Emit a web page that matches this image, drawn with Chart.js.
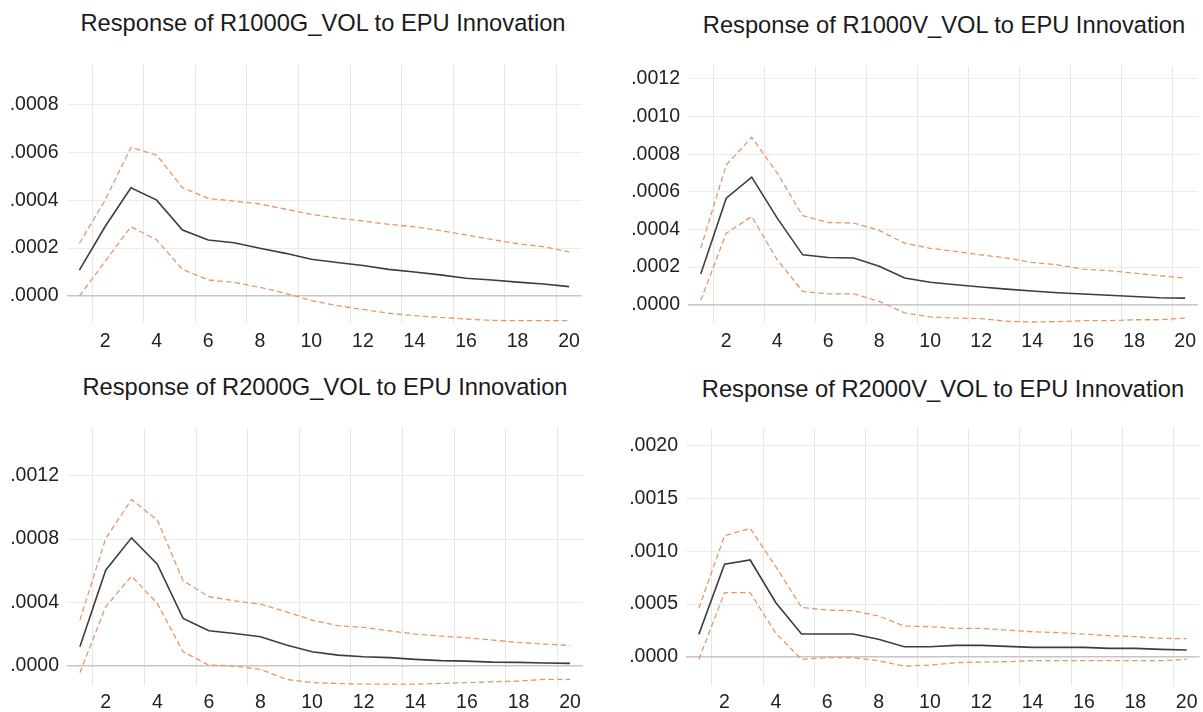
<!DOCTYPE html>
<html>
<head>
<meta charset="utf-8">
<script src="https://cdn.jsdelivr.net/npm/chart.js@4.4.1/dist/chart.umd.min.js"></script>
<style>
  html, body { margin: 0; padding: 0; background: #ffffff; }
  body { width: 1203px; height: 712px; position: relative; overflow: hidden; }
  .panel { position: absolute; }
  .title { position: absolute; width: 600px; text-align: center; font-family: 'Liberation Sans', Arial, sans-serif;
           font-size: 23.7px; line-height: 1; color: #1a1a1a; white-space: nowrap; }
</style>
</head>
<body>
<div class="title" style="left:23px; top:12px;">Response of R1000G_VOL to EPU Innovation</div>
<div class="title" style="left:644px; top:14px;">Response of R1000V_VOL to EPU Innovation</div>
<div class="title" style="left:25px; top:376px;">Response of R2000G_VOL to EPU Innovation</div>
<div class="title" style="left:643px; top:378px;">Response of R2000V_VOL to EPU Innovation</div>

<div class="panel" style="left:0px; top:0px; width:600px; height:356px;"><canvas id="c1"></canvas></div>
<div class="panel" style="left:600px; top:0px; width:603px; height:356px;"><canvas id="c2"></canvas></div>
<div class="panel" style="left:0px; top:356px; width:600px; height:356px;"><canvas id="c3"></canvas></div>
<div class="panel" style="left:600px; top:356px; width:603px; height:356px;"><canvas id="c4"></canvas></div>

<script>
// ---------------- DATA ----------------
const periods = ['1','2','3','4','5','6','7','8','9','10','11','12','13','14','15','16','17','18','19','20'];

// R1000G_VOL
const r1000gMid = [0.000108,0.000290,0.000452,0.000400,0.000275,0.000234,0.000222,0.000199,0.000178,0.000153,0.000140,0.000127,0.000111,0.000100,0.000088,0.000074,0.000067,0.000058,0.000050,0.000039];
const r1000gUp  = [0.000220,0.000400,0.000620,0.000588,0.000452,0.000407,0.000396,0.000384,0.000362,0.000341,0.000325,0.000313,0.000299,0.000289,0.000273,0.000255,0.000236,0.000218,0.000206,0.000184];
const r1000gLo  = [0.000000,0.000145,0.000289,0.000234,0.000111,0.000067,0.000057,0.000036,0.000011,-0.000019,-0.000040,-0.000056,-0.000072,-0.000082,-0.000089,-0.000096,-0.000102,-0.000103,-0.000103,-0.000103];
const r1000gTicks = [0, 0.0002, 0.0004, 0.0006, 0.0008];

// R1000V_VOL
const r1000vMid = [0.000163,0.000566,0.000678,0.000460,0.000265,0.000251,0.000248,0.000204,0.000142,0.000119,0.000106,0.000094,0.000083,0.000073,0.000064,0.000057,0.000050,0.000044,0.000037,0.000035];
const r1000vUp  = [0.000300,0.000743,0.000890,0.000700,0.000473,0.000437,0.000434,0.000395,0.000327,0.000300,0.000283,0.000265,0.000248,0.000225,0.000212,0.000189,0.000181,0.000168,0.000154,0.000142];
const r1000vLo  = [0.000023,0.000380,0.000469,0.000239,0.000071,0.000058,0.000058,0.000018,-0.000044,-0.000065,-0.000071,-0.000074,-0.000088,-0.000092,-0.000090,-0.000085,-0.000085,-0.000080,-0.000080,-0.000071];
const r1000vTicks = [0, 0.0002, 0.0004, 0.0006, 0.0008, 0.0010, 0.0012];

// R2000G_VOL
const r2000gMid = [0.000120,0.000604,0.000808,0.000642,0.000299,0.000221,0.000204,0.000183,0.000131,0.000088,0.000067,0.000057,0.000051,0.000040,0.000032,0.000029,0.000023,0.000021,0.000017,0.000015];
const r2000gUp  = [0.000288,0.000804,0.001050,0.000920,0.000537,0.000436,0.000410,0.000389,0.000341,0.000288,0.000253,0.000242,0.000221,0.000200,0.000187,0.000177,0.000162,0.000147,0.000137,0.000128];
const r2000gLo  = [-0.000044,0.000373,0.000566,0.000394,0.000088,0.000004,-0.000002,-0.000023,-0.000086,-0.000107,-0.000112,-0.000116,-0.000116,-0.000116,-0.000112,-0.000107,-0.000101,-0.000097,-0.000086,-0.000086];
const r2000gTicks = [0, 0.0004, 0.0008, 0.0012];

// R2000V_VOL
const r2000vMid = [0.000212,0.000877,0.000918,0.000513,0.000215,0.000215,0.000215,0.000165,0.000095,0.000095,0.000108,0.000108,0.000098,0.000089,0.000089,0.000089,0.000079,0.000079,0.000070,0.000063];
const r2000vUp  = [0.000459,0.001149,0.001218,0.000854,0.000468,0.000443,0.000437,0.000386,0.000291,0.000285,0.000269,0.000269,0.000253,0.000237,0.000228,0.000215,0.000199,0.000190,0.000174,0.000171];
const r2000vLo  = [-0.000025,0.000608,0.000608,0.000222,-0.000025,-0.000009,-0.000009,-0.000038,-0.000089,-0.000079,-0.000057,-0.000051,-0.000047,-0.000038,-0.000038,-0.000038,-0.000038,-0.000038,-0.000038,-0.000025];
const r2000vTicks = [0, 0.0005, 0.0010, 0.0015, 0.0020];

// axis ranges
const r1000gRange = [-0.0001127, 0.000964];
const r1000vRange = [-0.0000972, 0.001269];
const r2000gRange = [-0.000128, 0.0015];
const r2000vRange = [-0.000278, 0.002168];

// ---------------- STYLE ----------------
const TICK_FONT = { family: "'Liberation Sans', Arial, sans-serif", size: 19.5 };
const TICK_COLOR = '#222222';
const MID_COLOR = '#3d3d3d';
const BAND_COLOR = 'rgb(229,152,102)';

function fmt(v) {
  return v.toFixed(4).replace(/^-?0/, m => m.startsWith('-') ? '-' : '');
}

function makeChart(id, mid, up, lo, ticks, range, L) {
  const ctx = document.getElementById(id);
  return new Chart(ctx, {
    type: 'line',
    data: {
      labels: periods,
      datasets: [
        { data: up, borderColor: BAND_COLOR, borderWidth: 1.3, borderDash: [5.5, 3.2], pointRadius: 0, fill: false, tension: 0 },
        { data: lo, borderColor: BAND_COLOR, borderWidth: 1.3, borderDash: [5.5, 3.2], pointRadius: 0, fill: false, tension: 0 },
        { data: mid, borderColor: MID_COLOR, borderWidth: 1.6, pointRadius: 0, fill: false, tension: 0 }
      ]
    },
    options: {
      responsive: true,
      maintainAspectRatio: false,
      animation: false,
      events: [],
      layout: { padding: { left: 0, top: L.top, right: L.right, bottom: L.bottom } },
      plugins: { legend: { display: false }, title: { display: false }, tooltip: { enabled: false } },
      scales: {
        x: {
          type: 'category',
          offset: true,
          border: { display: false },
          grid: {
            offset: true,
            drawTicks: false,
            lineWidth: 1,
            color: c => (c.index !== undefined && c.index % 2 === 1) ? '#e6e6e6' : 'rgba(0,0,0,0)'
          },
          ticks: {
            autoSkip: false,
            maxRotation: 0,
            padding: L.xpad,
            font: TICK_FONT,
            color: TICK_COLOR,
            callback: (v, i) => (i % 2 === 1 ? periods[i] : '')
          },
          afterFit: s => { s.height = L.xh; }
        },
        y: {
          type: 'linear',
          min: range[0],
          max: range[1],
          border: { display: false },
          grid: {
            drawTicks: false,
            color: c => (c.tick && c.tick.value === 0) ? '#c6c6c6' : '#ececec',
            lineWidth: c => (c.tick && c.tick.value === 0) ? 1.5 : 1
          },
          ticks: {
            padding: 8,
            font: TICK_FONT,
            color: TICK_COLOR,
            callback: v => fmt(v)
          },
          afterBuildTicks: s => { s.ticks = ticks.map(v => ({ value: v })); },
          afterFit: s => { s.width = L.yw; }
        }
      }
    }
  });
}

makeChart('c1', r1000gMid, r1000gUp, r1000gLo, r1000gTicks, r1000gRange,
  { top: 65, right: 18, bottom: 3, xh: 30, yw: 66.5, xpad: 7 });
makeChart('c2', r1000vMid, r1000vUp, r1000vLo, r1000vTicks, r1000vRange,
  { top: 66, right: 1, bottom: 3, xh: 30, yw: 88, xpad: 7 });
makeChart('c3', r2000gMid, r2000gUp, r2000gLo, r2000gTicks, r2000gRange,
  { top: 72.3, right: 17, bottom: 2, xh: 24, yw: 67, xpad: 5 });
makeChart('c4', r2000vMid, r2000vUp, r2000vLo, r2000vTicks, r2000vRange,
  { top: 72.3, right: 3.5, bottom: 2, xh: 24, yw: 86, xpad: 5 });
</script>
</body>
</html>
